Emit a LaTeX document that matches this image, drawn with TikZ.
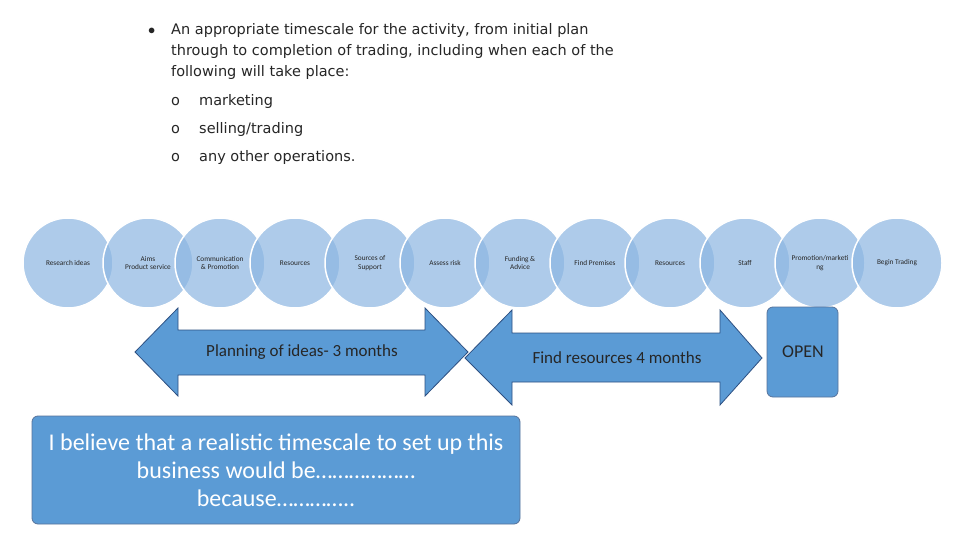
\documentclass[tikz,border=0pt]{standalone}
\usepackage{fontspec}
\setmainfont{Carlito}
\newfontfamily\verd{DejaVu Sans}
\definecolor{circ}{RGB}{140,182,226}
\definecolor{boxb}{RGB}{91,155,213}
\definecolor{edgeb}{RGB}{45,80,130}
\begin{document}
\begin{tikzpicture}[x=1pt,y=-1pt,
  stepcirc/.style={circle,minimum size=90pt,fill=circ,fill opacity=0.7,draw=white,line width=1.5pt,text opacity=1,align=center,font=\fontsize{7.3}{8.5}\selectfont,text=black!85},
  toptext/.style={anchor=base west,font=\verd\fontsize{14.5}{16}\selectfont,text=black!85,inner sep=0},
  arrowshape/.style={fill=boxb,draw=edgeb,line width=0.8pt},
  bluebox/.style={fill=boxb,draw=edgeb!80,line width=0.8pt,rounded corners=6pt}]
\useasboundingbox (0,0) rectangle (960,540);
\fill[white] (0,0) rectangle (960,540);
% top text
\node[toptext] (b1) at (148,35) {$\bullet$};
\node[toptext] (t1) at (171,35) {An appropriate timescale for the activity, from initial plan};
\node[toptext] (t2) at (171,56) {through to completion of trading, including when each of the};
\node[toptext] (t3) at (171,77) {following will take place:};
\node[toptext] (o1) at (171,106) {o};
\node[toptext] (s1) at (199,106) {marketing};
\node[toptext] (o2) at (171,134) {o};
\node[toptext] (s2) at (199,134) {selling/trading};
\node[toptext] (o3) at (171,162) {o};
\node[toptext] (s3) at (199,162) {any other operations.};
% circles
\foreach \x/\t [count=\i] in {68/Research ideas,148/{Aims\\Product service},220/{Communication\\\& Promotion},295/Resources,370/{Sources of\\Support},445/Assess risk,520/{Funding \&\\Advice},595/Find Premises,670/Resources,745/Staff,820/{Promotion/marketi\\ng},897/Begin Trading}
  \node[stepcirc] (c\i) at (\x,263) {\t};
% left double arrow
\draw[arrowshape] (135,352) -- (178,308) -- (178,330) -- (425,330) -- (425,308) -- (468,352) -- (425,396) -- (425,375) -- (178,375) -- (178,396) -- cycle;
\node[font=\fontsize{17}{19}\selectfont,text=black!85] (a1) at (302,352) {Planning of ideas- 3 months};
% right double arrow
\draw[arrowshape] (465,358) -- (512,310) -- (512,333) -- (720,333) -- (720,310) -- (762,358) -- (720,405) -- (720,382) -- (512,382) -- (512,405) -- cycle;
\node[font=\fontsize{17}{19}\selectfont,text=black!85] (a2) at (617,358) {Find resources 4 months};
% OPEN box
\draw[bluebox] (767,307) rectangle (838,397);
\node[font=\fontsize{18}{20}\selectfont,text=black!85] (open) at (803,352) {OPEN};
% bottom box
\draw[bluebox] (32,416) rectangle (520,524);
\node[font=\fontsize{24}{28}\selectfont,text=white,align=center] (bt) at (276,470) {I believe that a realistic timescale to set up this\\business would be………………\\because…………..};
\end{tikzpicture}
\end{document}
